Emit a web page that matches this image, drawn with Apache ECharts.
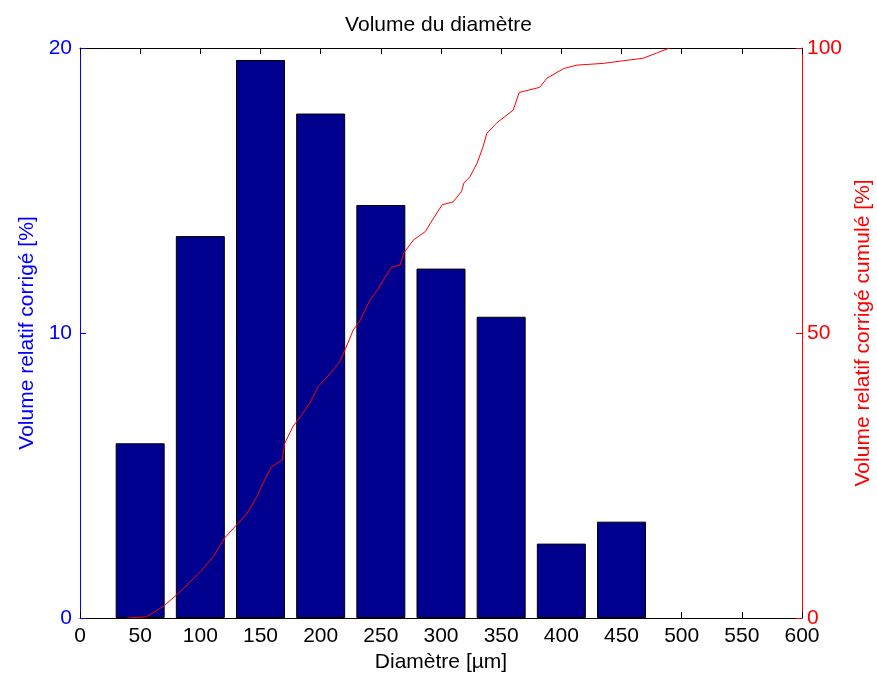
<!DOCTYPE html>
<html>
<head>
<meta charset="utf-8">
<script src="https://cdn.jsdelivr.net/npm/echarts@6/dist/echarts.min.js"></script>
<style>html,body{margin:0;padding:0;background:#fff;}#c{width:877px;height:680px;}</style>
</head>
<body>
<div id="c"></div>
<script>
// Data
const diameters = [50, 100, 150, 200, 250, 300, 350, 400, 450];
const volumes = [6.13, 13.4, 19.58, 17.7, 14.49, 12.26, 10.57, 2.61, 3.38];
const cumDiam = [39, 55, 69, 80, 89, 100, 111, 120, 130, 139, 147, 152, 159, 168, 170, 177, 183, 191, 198, 208, 216, 222, 227, 233, 241, 247, 253, 259, 266, 269, 277, 287, 291, 301, 310, 317, 319, 324, 330, 335, 338, 346, 360, 365, 382, 388, 402, 413, 435, 449, 468, 479, 490];
const cumValues = [0, 0.2, 2, 4, 5.8, 8.1, 10.8, 14, 16.3, 18.4, 21.3, 23.6, 26.5, 27.7, 30.6, 33.6, 35.3, 37.7, 40.6, 42.9, 45, 47.9, 50.5, 52.3, 55.8, 57.5, 59.6, 61.6, 61.9, 64, 66.3, 67.8, 69.2, 72.5, 73, 74.8, 76.3, 77.4, 79.8, 82.7, 85, 86.8, 89.1, 92.2, 93.1, 94.7, 96.4, 97, 97.3, 97.7, 98.2, 99.1, 100];
const xTicks = [0, 50, 100, 150, 200, 250, 300, 350, 400, 450, 500, 550, 600];

const FONT = 'Liberation Sans';
const FS = 21;
const chart = echarts.init(document.getElementById('c'), null, {renderer: 'canvas'});
const barData = diameters.map((d, i) => [d, volumes[i]]);
const lineData = cumDiam.map((d, i) => [d, cumValues[i]]);

chart.setOption({
  animation: false,
  backgroundColor: '#fff',
  title: {
    text: 'Volume du diamètre',
    left: 'center', top: 10,
    textStyle: {fontFamily: FONT, fontSize: FS, fontWeight: 'normal', color: '#000'}
  },
  grid: {left: 80, right: 75, top: 48, bottom: 62, containLabel: false, outerBoundsMode: 'none'},
  xAxis: [{
    type: 'value', min: xTicks[0], max: xTicks[xTicks.length - 1], interval: 50, position: 'bottom',
    name: 'Diamètre [µm]', nameLocation: 'middle', nameGap: 32,
    nameTextStyle: {fontFamily: FONT, fontSize: FS, color: '#000'},
    axisLine: {show: true, onZero: false, lineStyle: {color: '#000', width: 1}},
    axisTick: {show: true, inside: true, length: 6, lineStyle: {color: '#000'}},
    axisLabel: {fontFamily: FONT, fontSize: FS, color: '#000', margin: 8},
    splitLine: {show: false}
  }, {
    type: 'value', min: xTicks[0], max: xTicks[xTicks.length - 1], interval: 50, position: 'top',
    axisLine: {show: true, onZero: false, lineStyle: {color: '#000', width: 1}},
    axisTick: {show: true, inside: true, length: 6, lineStyle: {color: '#000'}},
    axisLabel: {show: false},
    splitLine: {show: false}
  }],
  yAxis: [{
    type: 'value', min: 0, max: 20, interval: 10, position: 'left',
    name: 'Volume relatif corrigé [%]', nameLocation: 'middle', nameGap: 40, nameRotate: 90,
    nameTextStyle: {fontFamily: FONT, fontSize: FS, color: '#0000ff'},
    axisLine: {show: true, onZero: false, lineStyle: {color: '#0000ff', width: 1}},
    axisTick: {show: true, inside: true, length: 6, lineStyle: {color: '#0000ff'}},
    axisLabel: {fontFamily: FONT, fontSize: FS, color: '#0000ff', margin: 8},
    splitLine: {show: false}
  }, {
    type: 'value', min: 0, max: 100, interval: 50, position: 'right',
    name: 'Volume relatif corrigé cumulé [%]', nameLocation: 'middle', nameGap: 44, nameRotate: 90,
    nameTextStyle: {fontFamily: FONT, fontSize: FS, color: '#ff0000'},
    axisLine: {show: true, onZero: false, lineStyle: {color: '#ff0000', width: 1}},
    axisTick: {show: true, inside: true, length: 6, lineStyle: {color: '#ff0000'}},
    axisLabel: {fontFamily: FONT, fontSize: FS, color: '#ff0000', margin: 5},
    splitLine: {show: false}
  }],
  series: [{
    type: 'bar', xAxisIndex: 0, yAxisIndex: 0,
    data: barData, barWidth: 49,
    itemStyle: {color: '#00008f', borderColor: '#000', borderWidth: 1}
  }, {
    type: 'line', xAxisIndex: 0, yAxisIndex: 1,
    data: lineData, showSymbol: false, symbol: 'none',
    lineStyle: {color: '#ff0000', width: 1}
  }]
});
</script>
</body>
</html>
